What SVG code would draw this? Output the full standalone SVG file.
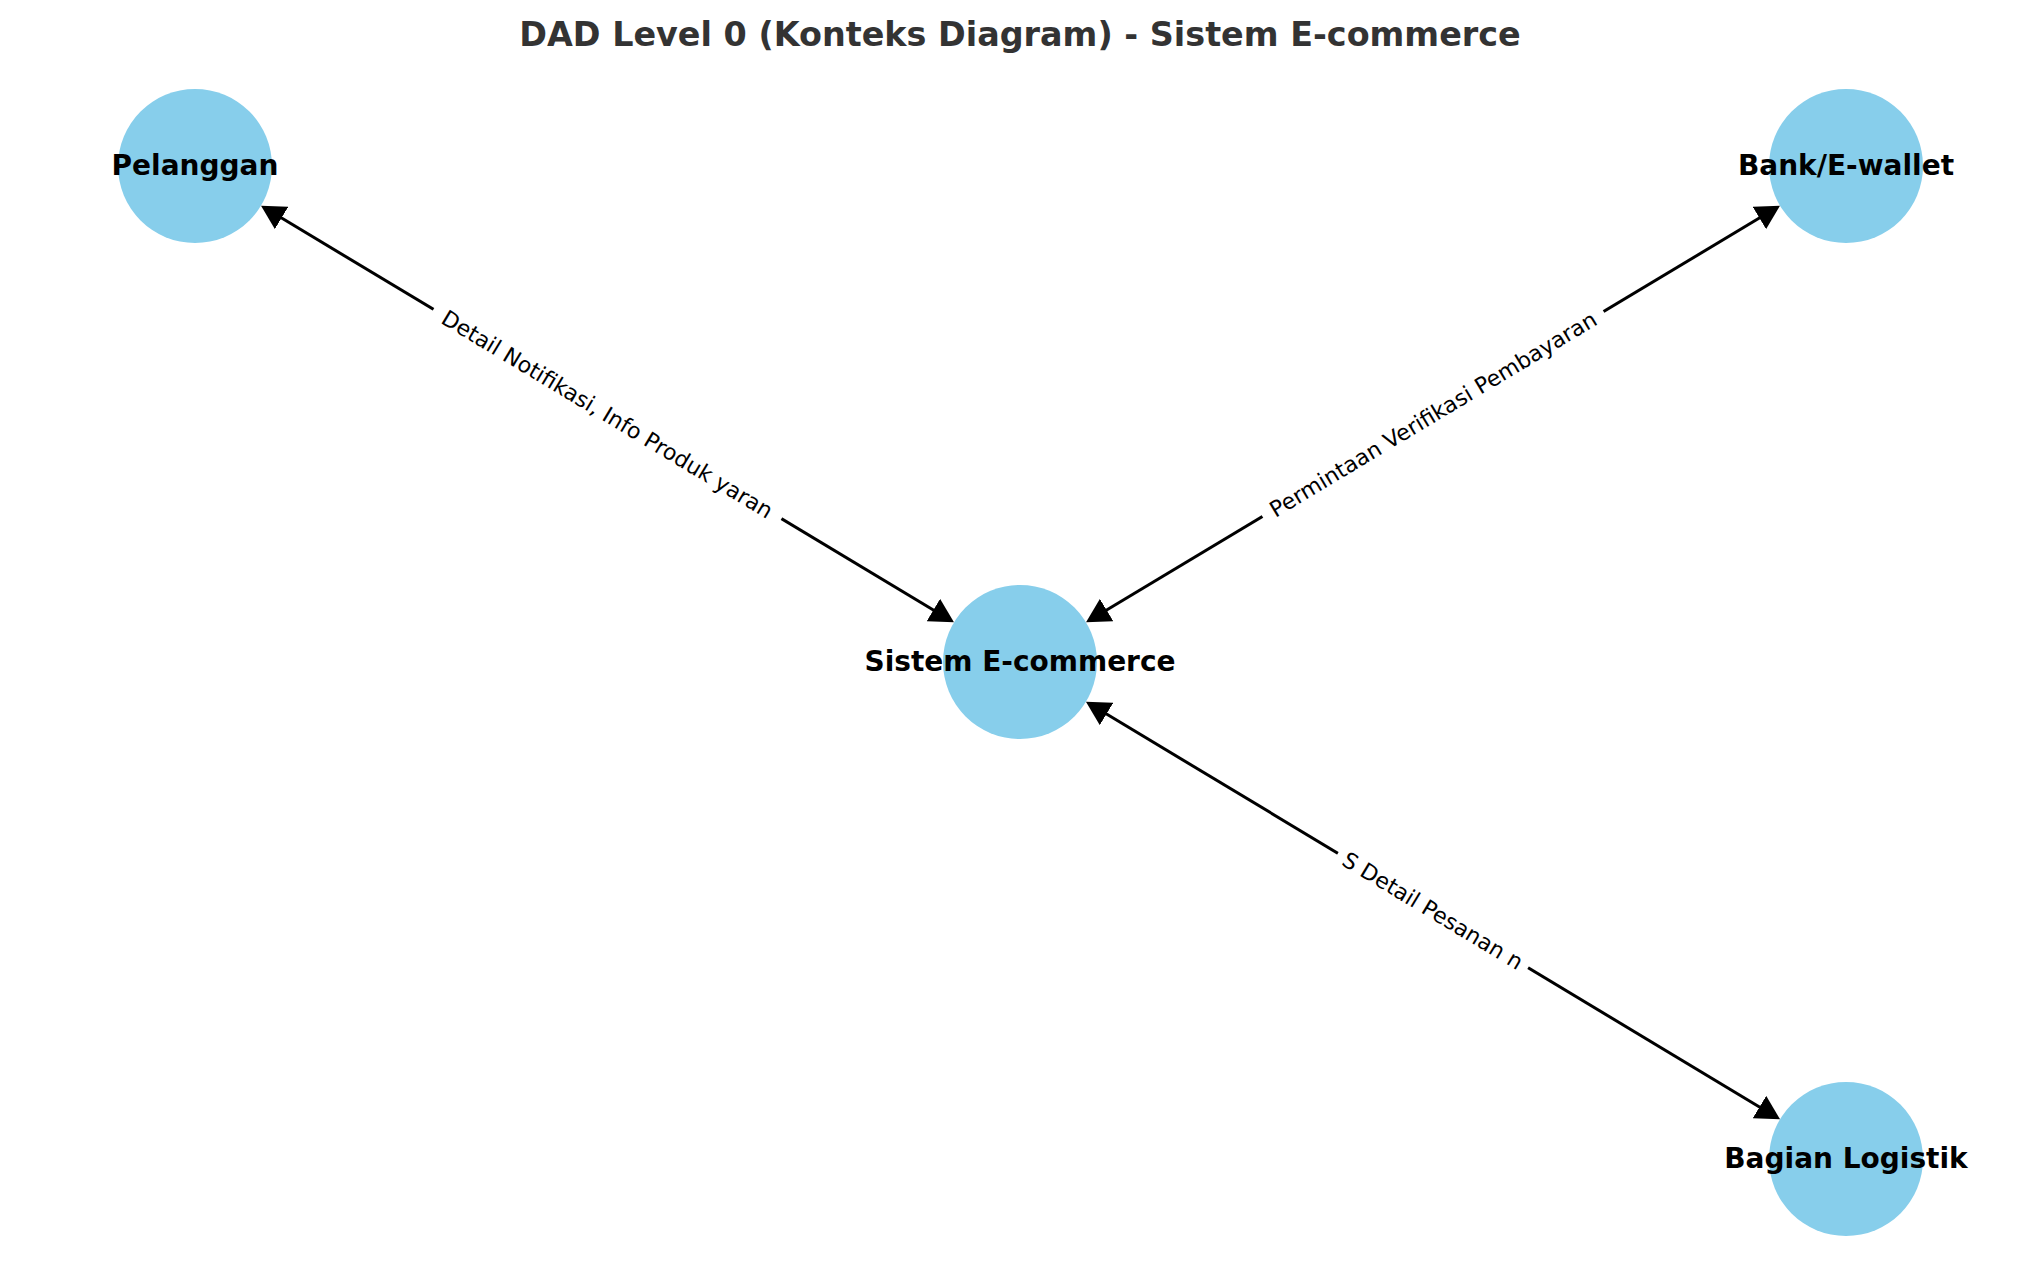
<svg xmlns="http://www.w3.org/2000/svg" width="2039" height="1282" viewBox="0 0 2039 1282">
<style>
.node{fill:#87CEEB}
.nlabel{font-family:"DejaVu Sans",sans-serif;font-weight:bold;font-size:28px;fill:#000;text-anchor:middle}
.edge{stroke:#000;stroke-width:3;fill:none}
.elabel{font-family:"DejaVu Sans",sans-serif;font-size:22px;fill:#000;text-anchor:middle}
.lbox{fill:#fff}
.title{font-family:"DejaVu Sans",sans-serif;font-weight:bold;font-size:33.4px;fill:#333;text-anchor:middle}
</style>
<defs>
<marker id="arrow" viewBox="0 0 24 26" markerWidth="24" markerHeight="26" refX="14" refY="13" orient="auto-start-reverse" markerUnits="userSpaceOnUse">
<path d="M0,0 L24,13 L0,26 z" fill="#000"/>
</marker>
</defs>
<rect width="2039" height="1282" fill="#fff"/>
<text class="title" x="1020" y="46">DAD Level 0 (Konteks Diagram) - Sistem E-commerce</text>
<g id="connectors">
<line class="edge" x1="269.6" y1="210.8" x2="945.4" y2="617.2" marker-start="url(#arrow)" marker-end="url(#arrow)"/>
<line class="edge" x1="1094.6" y1="617.2" x2="1771.4" y2="210.8" marker-start="url(#arrow)" marker-end="url(#arrow)"/>
<line class="edge" x1="1094.5" y1="706.8" x2="1771.5" y2="1114.2" marker-start="url(#arrow)" marker-end="url(#arrow)"/>
<g transform="translate(607.5,414) rotate(31)">
<rect class="lbox" x="-203" y="-15" width="406" height="30"/>
<text class="elabel" x="0" y="8">Detail Notifikasi, Info Produk yaran</text>
</g>
<g transform="translate(1433,414) rotate(-31)">
<rect class="lbox" x="-199" y="-15" width="398" height="30"/>
<text class="elabel" x="0" y="8">Permintaan Verifikasi Pembayaran</text>
</g>
<g transform="translate(1433,910.5) rotate(31)">
<rect class="lbox" x="-111" y="-15" width="222" height="30"/>
<text class="elabel" x="0" y="8">S Detail Pesanan n</text>
</g>
</g>
<g id="node-pelanggan">
<circle class="node" cx="195" cy="166" r="77"/>
<text class="nlabel" x="195" y="175">Pelanggan</text>
</g>
<g id="node-bank">
<circle class="node" cx="1846" cy="166" r="77"/>
<text class="nlabel" x="1846" y="175">Bank/E-wallet</text>
</g>
<g id="node-sistem">
<circle class="node" cx="1020" cy="662" r="77"/>
<text class="nlabel" x="1020" y="671">Sistem E-commerce</text>
</g>
<g id="node-logistik">
<circle class="node" cx="1846" cy="1159" r="77"/>
<text class="nlabel" x="1846" y="1168">Bagian Logistik</text>
</g>
</svg>
